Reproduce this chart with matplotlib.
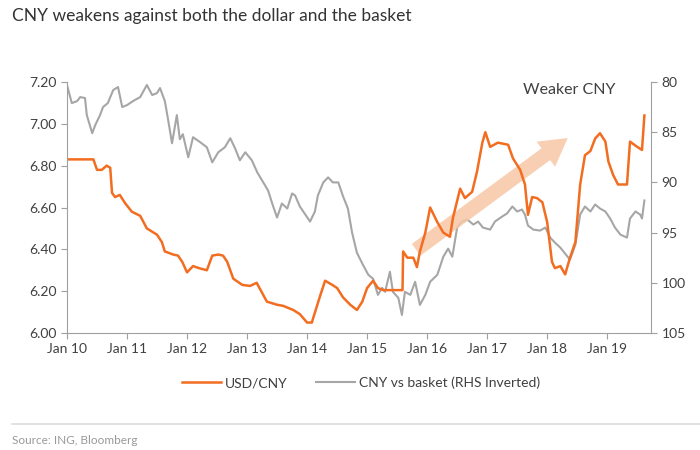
import matplotlib
matplotlib.use("Agg")
import matplotlib.pyplot as plt
from matplotlib.lines import Line2D

plt.rcParams['font.family'] = ['Lato', 'DejaVu Sans']

# ---- data (decimal years) ----
usd_x = [2010.0, 2010.2, 2010.44, 2010.5, 2010.58, 2010.66, 2010.72, 2010.75, 2010.8, 2010.88,
         2010.97, 2011.08, 2011.22, 2011.33, 2011.5, 2011.58, 2011.63, 2011.77, 2011.85, 2011.92,
         2012.0, 2012.1, 2012.2, 2012.33, 2012.42, 2012.52, 2012.6, 2012.67, 2012.77, 2012.92,
         2013.05, 2013.16, 2013.33, 2013.5, 2013.6, 2013.77, 2013.88, 2014.0, 2014.08, 2014.1,
         2014.22, 2014.3, 2014.42, 2014.5, 2014.6, 2014.72, 2014.83, 2014.92, 2015.0, 2015.1,
         2015.18, 2015.27, 2015.45, 2015.59, 2015.6, 2015.67, 2015.77, 2015.83, 2015.88, 2015.97,
         2016.05, 2016.17, 2016.27, 2016.38, 2016.43, 2016.55, 2016.63, 2016.75, 2016.83, 2016.92,
         2016.97, 2017.05, 2017.18, 2017.35, 2017.43, 2017.55, 2017.63, 2017.68, 2017.75, 2017.83,
         2017.92, 2018.0, 2018.08, 2018.13, 2018.22, 2018.3, 2018.38, 2018.47, 2018.55, 2018.63,
         2018.72, 2018.8, 2018.88, 2018.97, 2019.02, 2019.1, 2019.18, 2019.33, 2019.38, 2019.5,
         2019.58, 2019.62]
usd_cny = [6.83, 6.83, 6.83, 6.78, 6.78, 6.80, 6.79, 6.67, 6.65, 6.66,
           6.62, 6.58, 6.56, 6.50, 6.47, 6.435, 6.39, 6.375, 6.37, 6.34,
           6.29, 6.32, 6.31, 6.30, 6.37, 6.375, 6.37, 6.34, 6.26, 6.23,
           6.225, 6.24, 6.15, 6.135, 6.13, 6.11, 6.09, 6.05, 6.05, 6.07,
           6.18, 6.25, 6.23, 6.215, 6.17, 6.135, 6.11, 6.15, 6.215, 6.25,
           6.215, 6.205, 6.205, 6.205, 6.39, 6.36, 6.36, 6.315, 6.39, 6.48,
           6.60, 6.53, 6.48, 6.46, 6.55, 6.69, 6.645, 6.675, 6.77, 6.91,
           6.96, 6.89, 6.91, 6.90, 6.835, 6.78, 6.71, 6.565, 6.65, 6.645,
           6.625, 6.53, 6.34, 6.31, 6.32, 6.28, 6.36, 6.435, 6.71, 6.85,
           6.87, 6.93, 6.955, 6.915, 6.82, 6.755, 6.71, 6.71, 6.915, 6.89,
           6.875, 7.04]

bsk_x = [2010.0, 2010.08, 2010.17, 2010.22, 2010.3, 2010.33, 2010.42, 2010.47, 2010.55, 2010.6,
         2010.68, 2010.77, 2010.85, 2010.92, 2011.0, 2011.1, 2011.22, 2011.33, 2011.42, 2011.5,
         2011.55, 2011.63, 2011.68, 2011.75, 2011.83, 2011.88, 2011.93, 2012.02, 2012.1, 2012.22,
         2012.33, 2012.42, 2012.52, 2012.63, 2012.72, 2012.8, 2012.88, 2012.97, 2013.08, 2013.17,
         2013.27, 2013.35, 2013.43, 2013.5, 2013.58, 2013.67, 2013.75, 2013.8, 2013.88, 2013.97,
         2014.05, 2014.13, 2014.18, 2014.27, 2014.35, 2014.43, 2014.52, 2014.6, 2014.68, 2014.75,
         2014.83, 2014.93, 2015.02, 2015.1, 2015.18, 2015.25, 2015.3, 2015.38, 2015.43, 2015.52,
         2015.58, 2015.63, 2015.72, 2015.8, 2015.88, 2015.97, 2016.05, 2016.17, 2016.27, 2016.35,
         2016.42, 2016.5, 2016.58, 2016.67, 2016.77, 2016.85, 2016.93, 2017.05, 2017.13, 2017.25,
         2017.33, 2017.42, 2017.5, 2017.58, 2017.63, 2017.68, 2017.77, 2017.88, 2017.97, 2018.05,
         2018.13, 2018.22, 2018.3, 2018.38, 2018.47, 2018.55, 2018.63, 2018.72, 2018.8, 2018.88,
         2018.97, 2019.05, 2019.13, 2019.22, 2019.33, 2019.38, 2019.47, 2019.55, 2019.58, 2019.62]
basket = [80.3, 82.1, 81.9, 81.5, 81.6, 83.3, 85.1, 84.3, 83.3, 82.5,
          82.1, 80.8, 80.5, 82.5, 82.3, 81.9, 81.5, 80.3, 81.3, 81.1,
          80.6, 81.9, 83.6, 86.1, 83.3, 85.7, 85.2, 87.5, 85.5, 86.0,
          86.5, 88.0, 87.0, 86.5, 85.6, 86.6, 87.8, 87.0, 87.8, 89.0,
          90.0, 90.8, 92.3, 93.5, 92.1, 92.6, 91.1, 91.3, 92.4, 93.2,
          93.9, 92.9, 91.3, 90.0, 89.5, 90.0, 90.0, 91.4, 92.6, 95.0,
          97.0, 98.2, 99.2, 99.6, 101.2, 100.5, 100.9, 98.9, 100.9, 101.5,
          103.2, 100.9, 101.2, 99.9, 102.2, 101.2, 99.9, 99.2, 97.4, 96.6,
          97.4, 94.5, 93.9, 93.7, 94.2, 93.9, 94.5, 94.7, 93.9, 93.4,
          93.1, 92.4, 92.9, 92.7, 93.2, 94.3, 94.7, 94.8, 94.5, 95.5,
          96.0, 96.5, 97.1, 97.7, 96.2, 93.2, 92.4, 92.9, 92.2, 92.6,
          92.9, 93.6, 94.5, 95.2, 95.5, 93.6, 92.9, 93.2, 93.6, 91.8]

left_ticks = [6.00, 6.20, 6.40, 6.60, 6.80, 7.00, 7.20]
right_ticks = [80, 85, 90, 95, 100, 105]
x_ticks = list(range(2010, 2020))
x_labels = ["Jan 10", "Jan 11", "Jan 12", "Jan 13", "Jan 14", "Jan 15", "Jan 16", "Jan 17", "Jan 18", "Jan 19"]
arrow_start = (2015.78, 6.39)
arrow_end = (2018.38, 6.94)

ORANGE = "#F36D21"
GRAY = "#A6A6A6"
SPINE = "#A0A0A0"
TXT = "#404040"

fig = plt.figure(figsize=(7, 4.5), dpi=100)
ax = fig.add_axes([67/700, 1-333/450, (651-67)/700, (333-82)/450])
ax2 = ax.twinx()

ax.set_zorder(ax2.get_zorder() + 1)
ax.patch.set_visible(False)

ax2.plot(bsk_x, basket, color=GRAY, lw=1.5)
ax.plot(usd_x, usd_cny, color=ORANGE, lw=1.8)

ax.set_xlim(2010.0, 2019.73)
ax.set_ylim(6.0, 7.2)
ax2.set_ylim(105, 80)

ax.set_xticks(x_ticks)
ax.set_xticklabels(x_labels)
ax.set_yticks(left_ticks)
ax.set_yticklabels([f"{v:.2f}" for v in left_ticks])
ax2.set_yticks(right_ticks)
ax2.set_yticklabels([str(v) for v in right_ticks])

for a in (ax, ax2):
    for s in a.spines.values():
        s.set_color(SPINE)
    a.spines['top'].set_visible(False)
    a.tick_params(colors=SPINE, labelcolor=TXT, labelsize=10, length=4)
ax.spines['right'].set_visible(False)
ax2.spines['left'].set_visible(False)
ax2.spines['bottom'].set_visible(False)

# arrow
ax.annotate("", xy=arrow_end, xytext=arrow_start,
            arrowprops=dict(arrowstyle="simple,head_width=1.6,head_length=1.4,tail_width=0.75",
                            color="#F8C7A6", alpha=0.85, lw=0, mutation_scale=14),
            zorder=1)

ax.text(2018.37, 7.16, "Weaker CNY", fontsize=11.5, color=TXT, ha="center", va="center")

fig.text(12/700, 1-16/450, "CNY weakens against both the dollar and the basket",
         fontsize=12.5, color="#333333", ha="left", va="center")

handles = [Line2D([], [], color=ORANGE, lw=1.8), Line2D([], [], color=GRAY, lw=1.5)]
fig.legend(handles, ["USD/CNY", "CNY vs basket (RHS Inverted)"], loc="center",
           bbox_to_anchor=(361/700, 1-383/450), ncol=2, frameon=False, fontsize=10,
           handlelength=2.8, columnspacing=2.0, handletextpad=0.3, labelcolor=TXT)

fig.add_artist(Line2D([12/700, 1.0], [1-424/450, 1-424/450], color="#DDDDDD", lw=1.2))
fig.text(12/700, 1-441/450, "Source: ING, Bloomberg", fontsize=8.5, color="#999999",
         ha="left", va="center")

fig.savefig("out.png", dpi=100)
